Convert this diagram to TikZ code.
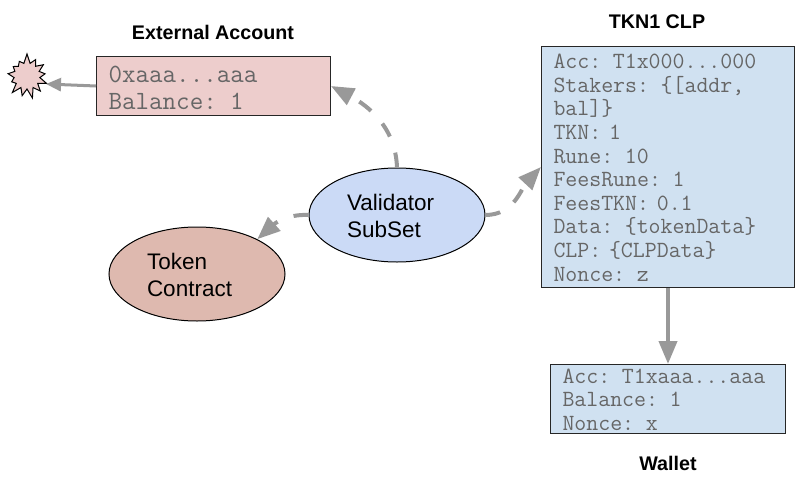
\documentclass[tikz,border=0pt]{standalone}
\usepackage{fontspec}
\setmainfont{Liberation Sans}
\usetikzlibrary{arrows.meta,shapes.geometric,shapes.symbols}
\definecolor{pinkfill}{HTML}{EDCDCC}
\definecolor{bluefill}{HTML}{D0E1F1}
\definecolor{ovalblue}{HTML}{CBDAF6}
\definecolor{ovalred}{HTML}{DEB9AF}
\definecolor{monotext}{HTML}{666666}
\tikzset{
  title/.style={font=\fontsize{19.7}{24}\selectfont\bfseries},
  acct/.style={draw=black!85,line width=1pt,anchor=north west,align=left,inner ysep=0pt,inner xsep=12pt,
    text=monotext,font=\ttfamily\fontsize{23.2}{23.6}\selectfont,execute at begin node={\rule{0pt}{16pt}}},
  oval/.style={draw=black,line width=1pt,ellipse,minimum width=176pt,minimum height=94pt,align=left,inner sep=0pt,
    font=\fontsize{22.5}{27}\selectfont,execute at begin node={\rule{0pt}{18pt}}},
  flow/.style={draw=black!40,line width=4pt,-{Triangle[length=23pt,width=18pt]}},
  dashflow/.style={flow,dash pattern=on 15pt off 17pt}
}
\begin{document}
\begin{tikzpicture}[x=1pt,y=-1pt]
\useasboundingbox (0,0) rectangle (800,479);
\node[title] (exttitle) at (213,32) {External Account};
\node[title] (clptitle) at (657,22) {TKN1 CLP};
\node[title] (wallettitle) at (668,463) {Wallet};
\node[acct,fill=pinkfill,minimum width=234pt,minimum height=59pt,text width=210pt,font=\ttfamily\fontsize{26.3}{27}\selectfont,execute at begin node={\rule{0pt}{21pt}}] (ext) at (96,56) {0xaaa...aaa\\Balance: 1};
\node[acct,fill=bluefill,minimum width=253pt,minimum height=241pt,text width=229pt] (clp) at (541,46) {Acc: T1x000...000\\Stakers: \{[addr,\\bal]\}\\TKN: 1\\Rune: 10\\FeesRune: 1\\FeesTKN: 0.1\\Data: \{tokenData\}\\CLP: \{CLPData\}\\Nonce: z};
\node[acct,fill=bluefill,minimum width=235pt,minimum height=69pt,text width=211pt] (wallet) at (550,364) {Acc: T1xaaa...aaa\\Balance: 1\\Nonce: x};
\node[oval,fill=ovalblue,text width=100pt] (val) at (397,215) {Validator\\SubSet};
\node[oval,fill=ovalred,text width=100pt] (token) at (197,274) {Token\\Contract};
\node[starburst,starburst points=13,starburst point height=10pt,random starburst=7,draw=black,line width=1pt,fill=pinkfill,minimum width=46pt,minimum height=46pt,inner sep=0pt] (burst) at (27,76) {};
\coordinate (bursttip) at (46,84);
\draw[flow,line width=3pt,-{Triangle[length=15pt,width=13pt]}] (ext.west) -- (bursttip);
\draw[dashflow] (val.north) to[out=92,in=-28] (ext.east);
\draw[dashflow] (val.west) to[out=177,in=42] (token.30);
\draw[dashflow] (val.east) to[out=0,in=-133] (clp.west);
\draw[flow] (clp.south) -- (wallet.north);
\end{tikzpicture}
\end{document}
